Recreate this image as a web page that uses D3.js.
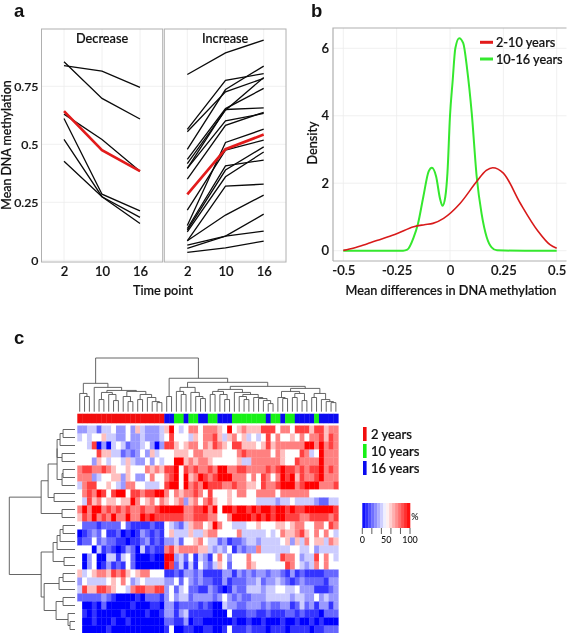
<!DOCTYPE html>
<html><head><meta charset="utf-8">
<script src="https://cdn.jsdelivr.net/npm/d3@7"></script>
<style>
html,body{margin:0;padding:0;background:#fff}
svg{display:block;filter:blur(.4px)}
text{font-family:Lato,"Open Sans",sans-serif;fill:#111;font-weight:500;stroke:#111;stroke-width:.22px}
</style></head><body>
<svg id="c" width="567" height="633"></svg>
<script>
// ---- Panel a ----
const timePoints = ["2","10","16"];
const methTicks = [0,0.25,0.5,0.75];
const methTickLabels = ["0","0.25","0.5","0.75"];
const decreaseLines = [
 [.856,.698,.609],[.839,.815,.745],[.63,.521,.384],
 [.611,.285,.213],[.521,.274,.185],[.427,.274,.159]];
const decreaseMean = [.643,.475,.384];
const increaseLines = [
 [.801,.894,.949],[.564,.776,.805],[.554,.726,.784],[.478,.736,.837],
 [.435,.654,.741],[.417,.647,.788],[.396,.65,.657],[.396,.601,.633],
 [.35,.582,.638],[.216,.475,.518],[.15,.508,.565],[.137,.407,.432],
 [.13,.389,.489],[.123,.36,.467],[.084,.32,.328],[.084,.195,.281],
 [.065,.104,.199],[.051,.104,.126],[.034,.054,.083]];
const increaseMean = [.284,.479,.542];
// ---- Panel b ----
const densityXTicks = [-.5,-.25,0,.25,.5];
const densityXLabels = ["-0.5","-0.25","0","0.25","0.5"];
const densityYTicks = [0,2,4,6];
const density210 = [[-.5,.01],[-.45,.08],[-.39,.2],[-.32,.35],[-.25,.5],[-.17,.71],[-.12,.77],[-.08,.81],[-.03,.96],[.047,1.4],[.125,2.05],[.17,2.38],[.2,2.46],[.25,2.3],[.33,1.4],[.41,.6],[.47,.17],[.5,.07]];
const density1016 = [[-.5,0],[-.35,0],[-.22,0],[-.2,.03],[-.17,.4],[-.15,.8],[-.125,1.6],[-.1,2.35],[-.085,2.46],[-.065,2.2],[-.047,1.55],[-.035,1.33],[-.022,1.6],[-.012,2.3],[0,4.0],[.012,5.0],[.025,6.0],[.043,6.3],[.062,6.15],[.08,5.4],[.102,4.07],[.125,2.2],[.148,1.1],[.172,.4],[.195,.1],[.22,.01],[.35,0],[.5,0]];
const densitySeries = ["2-10 years","10-16 years"];
// ---- Panel c ----
const annotationGroups = [["2 years",18],["16 years",2],["10 years",2],["16 years",1],["10 years",2],["16 years",2],["10 years",2],["16 years",3],["10 years",7],["16 years",1],["10 years",2],["16 years",1],["10 years",2],["16 years",4],["10 years",1],["16 years",4]];
const ageLabels = ["2 years","10 years","16 years"];
const ageColors = ["#f20d0d","#16f016","#0a0af0"];
const levelValues = [0,10,20,30,40,50,62.5,75,87.5,100];
const heatRows = [
"334424453353643334695457757776595676668885775888688677",
"454556443353343334585554657786467564545857556575778687",
"554803045423345303886567757687658866656867777779979787",
"555586644232353645556665776666555787777757655587459777",
"555365455464335354559967677655555644777777655877779777",
"788778765565557676889587877879977887777878988787889787",
"777345566365335755789596798789997775758757989687789777",
"478855654377554445899597879888778776658778999789997778",
"578798589958878899757677875855565775577775777777555555",
"548675665669756757656736757865565555544443445444432244",
"797997878787787789999977889795998998989989989889999998",
"687978797797798988888877888775579999898989988877888878",
"522212222521111211543246775697554445565556656775577587",
"012325112010132121564446446775555744444545766786575754",
"122523221101123121334255675442312234434444563647566476",
"555041210132041211786777766434351323374444445544534444",
"503500441452000100993425143157535557555554877534485754",
"503501312152000000982414153246525557655555587543475755",
"645677687865677555112133231111331323233233213121111222",
"354444565753454444335253232211312223342334321232222133",
"486688765547887788352452211321013224443445544533311123",
"222223210000102221353442333323532322333444443443353433",
"500102000001000110331222212100433223332322331242313313",
"510100000100001001331341111100051112211211122121110222",
"500100010010000000221130110000001001001000100100101000",
"500000100000000000150011001100151112111011101111011222"];
const colTree = [53,
 [28,[18,0,[15,1,2]],[24,3,[21,[19,[12,4,5],[17,6,[11,7,8]]],[20,[15,9,[10,10,11]],[17,[12,12,13],[14,14,[10,15,[9,16,17]]]]]]]],
 [33,[15,18,19],[29,[24,[20,20,[17,21,22]],[19,23,[15,24,[13,25,26]]]],
   [25,[22,[20,[17,27,28],[17,29,[12,30,31]]],[19,32,[17,[15,33,[12,34,35]],[14,36,[13,37,[11,38,[8,39,40]]]]]]],
       [23,[20,[14,41,[13,42,43]],[18,[14,44,45],[11,46,47]]],[18,[14,48,49],[12,50,[10,51,[9,52,53]]]]]]]]];
const rowTree = [66,
 [34,[27,[18,[18,[15,[12,0,1],2],[13,3,4]],[13,[12,5,6],7]],[21,8,9]],[13,10,11]],
 [34,[22,[18,[15,[12,12,13],14],15],[11,16,17]],
     [31,[16,[12,18,19],20],[19,[12,21,22],[7,23,[5,24,25]]]]]];
const legendTicks = [0,20,40,60,80,100];
const legendLabels = [[0,"0"],[50,"50"],[100,"100"]];
const legendBands = d3.range(16);

const svg = d3.select("#c");
const blue2red = d3.scaleLinear().domain([0,50,100]).range(["#0000ff","#ffffff","#ff0000"]);
const tickFont = 13, titleFont = 12.7;

function label(x,y,t,size,anchor,rot){
  const e = svg.append("text").attr("x",x).attr("y",y).attr("font-size",size)
    .attr("text-anchor",anchor||"middle").attr("dominant-baseline","central").text(t);
  if(rot) e.attr("transform",`rotate(${rot} ${x} ${y})`);
  return e;
}
[["a",14,17],["b",311,17],["c",14,344]].forEach(([t,x,y])=>{
  svg.append("text").attr("x",x).attr("y",y).attr("font-size",18.5)
   .style("font-family","'Liberation Sans',sans-serif").style("font-weight",700).style("stroke","none").attr("fill","#111").text(t);
});

// ---- Panel a drawing ----
const yMeth = d3.scaleLinear().domain([0,.75]).range([260.3,86.3]);
const panels = [
 {title:"Decrease",x0:41.5,x1:162.7,xr:[64,140],lines:decreaseLines,mean:decreaseMean},
 {title:"Increase",x0:164.3,x1:286,xr:[187.3,263.7],lines:increaseLines,mean:increaseMean}];
const grid = "#ececec";
panels.forEach(p=>{
  const x = d3.scalePoint().domain(timePoints).range(p.xr);
  const g = svg.append("g");
  methTicks.forEach(t=>g.append("line").attr("x1",p.x0).attr("x2",p.x1).attr("y1",yMeth(t)).attr("y2",yMeth(t)).attr("stroke",grid).attr("stroke-width",.8));
  timePoints.forEach(t=>g.append("line").attr("x1",x(t)).attr("x2",x(t)).attr("y1",29).attr("y2",262).attr("stroke",grid).attr("stroke-width",.8));
  const line = d3.line().x((d,i)=>x(timePoints[i])).y(d=>yMeth(d));
  g.selectAll(".l").data(p.lines).join("path").attr("d",line).attr("fill","none").attr("stroke","#0a0a0a").attr("stroke-width",1.3);
  g.append("path").attr("d",line(p.mean)).attr("fill","none").attr("stroke","#e21b1b").attr("stroke-width",2.6);
  g.append("rect").attr("x",p.x0).attr("y",29).attr("width",p.x1-p.x0).attr("height",233).attr("fill","none").attr("stroke","#b0b0b0").attr("stroke-width",1);
  label((p.x0+p.x1)/2,38,p.title,titleFont);
  const ax = svg.append("g").attr("transform","translate(0,262)").call(d3.axisBottom(x).tickSize(0).tickPadding(5));
  ax.select(".domain").remove();
  ax.selectAll("text").attr("font-size",tickFont);
});
const axL = svg.append("g").attr("transform","translate(40.5,0)")
  .call(d3.axisLeft(yMeth).tickValues(methTicks).tickFormat((d,i)=>methTickLabels[i]).tickSize(0).tickPadding(2));
axL.select(".domain").remove();
axL.selectAll("text").attr("font-size",12.3);
label(6.8,145,"Mean DNA methylation",12.4,"middle",-90);
label(163,290,"Time point",titleFont);

// ---- Panel b drawing ----
const xD = d3.scaleLinear().domain([-.5,.5]).range([343.3,556.7]);
const yD = d3.scaleLinear().domain([0,6]).range([250.7,48.3]);
densityYTicks.forEach(t=>svg.append("line").attr("x1",333).attr("x2",566.5).attr("y1",yD(t)).attr("y2",yD(t)).attr("stroke",grid).attr("stroke-width",.8));
densityXTicks.forEach(t=>svg.append("line").attr("x1",xD(t)).attr("x2",xD(t)).attr("y1",28).attr("y2",261).attr("stroke",grid).attr("stroke-width",.8));
const dl = d3.line().x(d=>xD(d[0])).y(d=>yD(d[1])).curve(d3.curveMonotoneX);
svg.append("path").attr("d",dl(density1016)).attr("fill","none").attr("stroke","#35e82e").attr("stroke-width",2);
svg.append("path").attr("d",dl(density210)).attr("fill","none").attr("stroke","#d81a1a").attr("stroke-width",1.6);
svg.append("path").attr("d",d3.line()([[333,261],[333,28],[566.5,28]])).attr("fill","none").attr("stroke","#b0b0b0").attr("stroke-width",1.2);
svg.append("line").attr("x1",333).attr("x2",566.5).attr("y1",261).attr("y2",261).attr("stroke","#b0b0b0").attr("stroke-width",1.2);
const axB = svg.append("g").attr("transform","translate(0,261)")
  .call(d3.axisBottom(xD).tickValues(densityXTicks).tickFormat((d,i)=>densityXLabels[i]).tickSize(0).tickPadding(5));
axB.select(".domain").remove(); axB.selectAll("text").attr("font-size",tickFont);
const axD = svg.append("g").attr("transform","translate(333,0)")
  .call(d3.axisLeft(yD).tickValues(densityYTicks).tickFormat(d3.format("d")).tickSize(0).tickPadding(4));
axD.select(".domain").remove(); axD.selectAll("text").attr("font-size",tickFont);
label(312,143,"Density",titleFont,"middle",-90);
label(451,290,"Mean differences in DNA methylation",titleFont);
densitySeries.forEach((s,i)=>{
  const y = 42.3+i*16.7;
  svg.append("line").attr("x1",480).attr("x2",493).attr("y1",y).attr("y2",y).attr("stroke",i?"#35e82e":"#e21b1b").attr("stroke-width",3);
  label(496,y,s,titleFont,"start");
});

// ---- Panel c drawing ----
const cols = d3.scaleBand().domain(d3.range(54)).range([77.3,338.3]);
const rows = d3.scaleBand().domain(d3.range(heatRows.length)).range([425.5,633.5]);
const ageColor = d3.scaleOrdinal(ageLabels,ageColors);
const annot = []; annotationGroups.forEach(([g,n])=>{for(let i=0;i<n;i++)annot.push(g);});
svg.append("g").selectAll("rect").data(annot).join("rect")
  .attr("x",(d,i)=>cols(i)).attr("y",413.7).attr("width",cols.bandwidth()+.3).attr("height",9.6).attr("fill",d=>ageColor(d));
heatRows.forEach((r,ri)=>{
  svg.append("g").selectAll("rect").data(r.split("").map(c=>levelValues[+c])).join("rect")
   .attr("x",(d,i)=>cols(i)).attr("y",rows(ri)).attr("width",cols.bandwidth()+.3).attr("height",rows.bandwidth()+.3).attr("fill",d=>blue2red(d));
});
function dendro(node,pos,emit){
  if(typeof node==="number") return {c:pos(node),h:0};
  const a=dendro(node[1],pos,emit), b=dendro(node[2],pos,emit);
  emit(a,b,node[0]);
  return {c:(a.c+b.c)/2,h:node[0]};
}
const yTop = d3.scaleLinear().domain([0,53]).range([411.7,358]);
const topPath = d3.path();
dendro(colTree,i=>cols(i)+cols.bandwidth()/2,(a,b,h)=>{
  topPath.moveTo(a.c,yTop(a.h));topPath.lineTo(a.c,yTop(h));topPath.lineTo(b.c,yTop(h));topPath.lineTo(b.c,yTop(b.h));
});
svg.append("path").attr("d",topPath.toString()).attr("fill","none").attr("stroke","#555").attr("stroke-width",.9);
const xLeft = d3.scaleLinear().domain([0,66]).range([75,9.3]);
const leftPath = d3.path();
dendro(rowTree,i=>rows(i)+rows.bandwidth()/2,(a,b,h)=>{
  leftPath.moveTo(xLeft(a.h),a.c);leftPath.lineTo(xLeft(h),a.c);leftPath.lineTo(xLeft(h),b.c);leftPath.lineTo(xLeft(b.h),b.c);
});
svg.append("path").attr("d",leftPath.toString()).attr("fill","none").attr("stroke","#555").attr("stroke-width",.9);

ageLabels.forEach((s,i)=>{
  const y=427+i*17;
  svg.append("rect").attr("x",363).attr("y",y).attr("width",3.6).attr("height",14).attr("fill",ageColors[i]);
  label(371,y+6.5,s,13,"start");
});
const xLegend = d3.scaleLinear().domain([0,100]).range([362.3,410]);
legendBands.forEach(i=>{
  svg.append("rect").attr("x",xLegend(i*100/16)).attr("y",503).attr("width",xLegend(100/16)-xLegend(0)+.3).attr("height",25)
   .attr("fill",blue2red((i+.5)*100/16));
});
legendTicks.forEach(t=>svg.append("line").attr("x1",xLegend(t)).attr("x2",xLegend(t)).attr("y1",528).attr("y2",534).attr("stroke","#333").attr("stroke-width",.8));
legendLabels.forEach(([v,t])=>label(xLegend(v),539,t,9).style("stroke","none"));
label(415,516,"%",9).style("stroke","none");
</script>
</body></html>
